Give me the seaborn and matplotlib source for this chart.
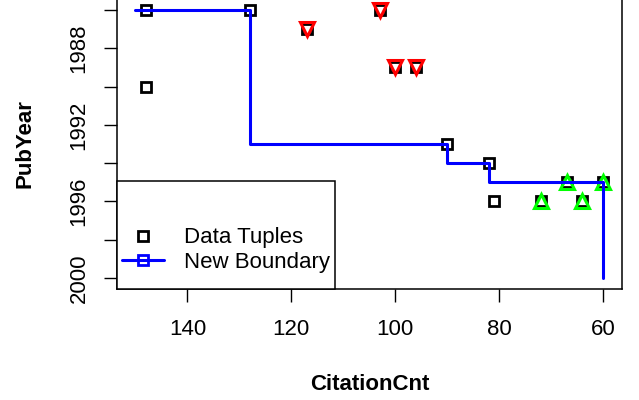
import matplotlib
matplotlib.use("Agg")
import matplotlib.pyplot as plt
from matplotlib.patches import Rectangle
from matplotlib.lines import Line2D
import seaborn as sns
import pandas as pd

# ---- data ----
tuple_cit = [148, 128, 148, 117, 103, 100, 96, 90, 82, 81, 72, 67, 64, 60]
tuple_year = [1986, 1986, 1990, 1987, 1986, 1989, 1989, 1993, 1994, 1996, 1996, 1995, 1996, 1995]

red_cit = [117, 103, 100, 96]
red_year = [1987, 1986, 1989, 1989]

green_cit = [72, 67, 64, 60]
green_year = [1996, 1995, 1996, 1995]

boundary_cit = [150, 128, 128, 90, 90, 82, 82, 60, 60]
boundary_year = [1986, 1986, 1993, 1993, 1994, 1994, 1995, 1995, 2000]

x_ticks = [140, 120, 100, 80, 60]
y_ticks = [1986, 1988, 1990, 1992, 1994, 1996, 1998, 2000]
y_tick_labels = ["", "1988", "", "1992", "", "1996", "", "2000"]

legend_labels = ["Data Tuples", "New Boundary"]

# ---- style ----
sns.set_style("white")
plt.rcParams["font.family"] = ["Liberation Sans", "DejaVu Sans"]
plt.rcParams["text.color"] = "black"
plt.rcParams["axes.labelcolor"] = "black"

W, H = 639, 400
fig = plt.figure(figsize=(W / 100, H / 100), dpi=100)
ax_l, ax_r, ax_t, ax_b = 116.7, 622.0, -0.7, 288.7
ax = fig.add_axes([ax_l / W, 1 - ax_b / H, (ax_r - ax_l) / W, (ax_b - ax_t) / H])

df_t = pd.DataFrame({"c": tuple_cit, "y": tuple_year})
df_r = pd.DataFrame({"c": red_cit, "y": red_year})
df_g = pd.DataFrame({"c": green_cit, "y": green_year})
df_b = pd.DataFrame({"c": boundary_cit, "y": boundary_year})

ms = 6.8
mew = 2.0
ax.plot(df_t["c"], df_t["y"], ls="none", marker="s", ms=ms, mfc="none",
        mec="black", mew=mew, zorder=3)
ax.plot(df_r["c"], df_r["y"], ls="none", marker="v", ms=10, mfc="none",
        mec="#FF0000", mew=2.2, zorder=4)
ax.plot(df_g["c"], df_g["y"], ls="none", marker="^", ms=10, mfc="none",
        mec="#00FF00", mew=2.2, zorder=4)
sns.lineplot(data=df_b, x="c", y="y", sort=False, estimator=None,
             color="#0000FF", lw=2.2, ax=ax, zorder=5)

ax.set_xlim(153.6, 56.4)
ax.set_ylim(2000.56, 1985.44)

ax.set_xticks(x_ticks)
ax.set_xticklabels([str(v) for v in x_ticks])
ax.set_yticks(y_ticks)
ax.set_yticklabels(y_tick_labels, rotation=90, va="center")

ax.tick_params(axis="both", direction="out", length=9.6, width=1.0,
               color="black", labelsize=16, labelcolor="black")
ax.tick_params(axis="x", pad=12)
ax.tick_params(axis="y", pad=10)
ax.xaxis.set_ticks_position("bottom")
ax.yaxis.set_ticks_position("left")

for s in ax.spines.values():
    s.set_color("black")
    s.set_linewidth(1.1)

ax.set_xlabel("CitationCnt", fontsize=16, fontweight="bold", color="black")
ax.set_ylabel("PubYear", fontsize=16, fontweight="bold", color="black")
ax.xaxis.set_label_coords(0.5, -0.296)
ax.yaxis.set_label_coords(-0.16, 0.5)

# legend box
aw = ax_r - ax_l
ah = ax_b - ax_t
box_w = (335 - ax_l) / aw
box_h = (ax_b - 180.7) / ah
ax.add_patch(Rectangle((0, 0), box_w, box_h, transform=ax.transAxes,
                       facecolor="white", edgecolor="black", lw=1.1,
                       zorder=6, clip_on=False))
handles = [
    Line2D([], [], ls="none", marker="s", ms=ms, mfc="none", mec="black", mew=mew),
    Line2D([], [], color="#0000FF", lw=2.2, marker="s", ms=ms, mfc="none",
           mec="#0000FF", mew=mew),
]
leg = ax.legend(handles, legend_labels, loc="center left",
                bbox_to_anchor=(121.7 / W, 1 - 250.0 / H),
                bbox_transform=fig.transFigure, frameon=False,
                fontsize=16, borderpad=0, borderaxespad=0,
                handlelength=1.9, handletextpad=0.9, labelspacing=0.15)
for t in leg.get_texts():
    t.set_color("black")
leg.set_zorder(7)

fig.savefig("out.png", dpi=100)
